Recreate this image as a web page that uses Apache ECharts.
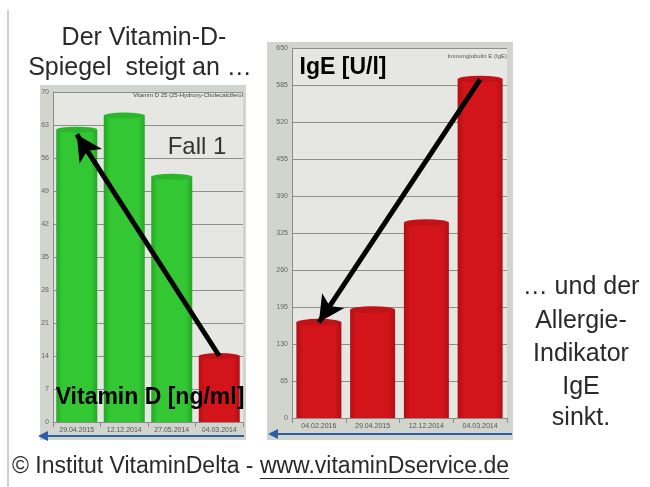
<!DOCTYPE html>
<html>
<head>
<meta charset="utf-8">
<script src="https://cdn.jsdelivr.net/npm/echarts@6.0.0/dist/echarts.min.js"></script>
<style>
  html, body { margin: 0; padding: 0; background: #ffffff; }
  #chart { width: 650px; height: 487px; }
</style>
</head>
<body>
<div id="chart"></div>
<script>
// ---- data ----
const vitCategories = ['29.04.2015', '12.12.2014', '27.05.2014', '04.03.2014'];
const vitValues = [62, 65, 52, 14];
const vitAxis = { min: 0, max: 70, interval: 7 };

const igeCategories = ['04.02.2016', '29.04.2015', '12.12.2014', '04.03.2014'];
const igeValues = [168, 190, 343, 595];
const igeAxis = { min: 0, max: 650, interval: 65 };

const vitTitle = 'Vitamin D 25 (25-Hydroxy-Cholecalciferol';
const igeTitle = 'Immunglobulin E (IgE)';
const rightLines = ['… und der', 'Allergie-', 'Indikator', 'IgE', 'sinkt.'];

// ---- styles ----
const FONT = '"Liberation Sans", Arial, sans-serif';
function cyl(c1, c2) {
  return new echarts.graphic.LinearGradient(0, 0, 1, 0, [
    { offset: 0, color: c2 }, { offset: 0.15, color: c1 },
    { offset: 0.85, color: c1 }, { offset: 1, color: c2 }
  ]);
}
const GREEN = cyl('#33c733', '#23a823');
const RED = cyl('#d3151b', '#b10f14');
const GREEN_TOP = '#2cb52c';
const RED_TOP = '#c11217';

const vitColor = v => (v < 20 ? RED : GREEN);
const vitTopColor = v => (v < 20 ? RED_TOP : GREEN_TOP);

const chart = echarts.init(document.getElementById('chart'), null, { renderer: 'canvas' });

function measure(text, font) {
  const c = document.createElement('canvas').getContext('2d');
  c.font = font;
  return c.measureText(text).width;
}
const footA = '© Institut VitaminDelta - ';
const footB = 'www.vitaminDservice.de';
const footFont = '23px ' + FONT;
const footAW = measure(footA, footFont);
const footBW = measure(footB, footFont);
const TEXT_COL = '#2a2a2a';

function yAxisCfg(gi, ax) {
  return {
    type: 'value', gridIndex: gi, min: ax.min, max: ax.max, interval: ax.interval,
    axisLine: { show: true, lineStyle: { color: '#8c8c8c' } },
    axisTick: { show: false },
    axisLabel: { fontSize: 7, color: '#666', fontFamily: FONT, margin: 4 },
    splitLine: { lineStyle: { color: '#8e8e8e', width: 1 } }
  };
}
function xAxisCfg(gi, cats) {
  return {
    type: 'category', gridIndex: gi, data: cats,
    axisLine: { lineStyle: { color: '#8c8c8c' } },
    axisTick: { show: true, lineStyle: { color: '#8c8c8c' } },
    axisLabel: { fontSize: 7, color: '#555', fontFamily: FONT, margin: 5 }
  };
}

const arrowLine = (from, to) => ({
  silent: true, symbol: ['none', 'arrow'], symbolSize: [20, 26],
  label: { show: false },
  lineStyle: { color: '#000', width: 5, type: 'solid' },
  data: [[{ coord: from }, { coord: to }]]
});

const option = {
  backgroundColor: '#ffffff',
  animation: false,
  grid: [
    { left: 53, top: 92, width: 190, height: 330, show: true, backgroundColor: '#e6e7e3', borderWidth: 0 },
    { left: 292, top: 48, width: 215, height: 370, show: true, backgroundColor: '#e6e7e3', borderWidth: 0 }
  ],
  xAxis: [xAxisCfg(0, vitCategories), xAxisCfg(1, igeCategories)],
  yAxis: [yAxisCfg(0, vitAxis), yAxisCfg(1, igeAxis)],
  series: [
    {
      type: 'bar', xAxisIndex: 0, yAxisIndex: 0, barWidth: 41, z: 2,
      data: vitValues.map(v => ({ value: v, itemStyle: { color: vitColor(v) } }))
    },
    {
      type: 'pictorialBar', xAxisIndex: 0, yAxisIndex: 0, symbol: 'circle',
      symbolSize: [41, 6], symbolPosition: 'end', symbolOffset: [0, '-50%'], z: 3,
      data: vitValues.map(v => ({ value: v, itemStyle: { color: vitTopColor(v) } })),
      markLine: arrowLine([3, vitValues[3]], [0, vitValues[0] - 1])
    },
    {
      type: 'bar', xAxisIndex: 1, yAxisIndex: 1, barWidth: 45, z: 2,
      data: igeValues.map(v => ({ value: v, itemStyle: { color: RED } }))
    },
    {
      type: 'pictorialBar', xAxisIndex: 1, yAxisIndex: 1, symbol: 'circle',
      symbolSize: [45, 7], symbolPosition: 'end', symbolOffset: [0, '-50%'], z: 3,
      data: igeValues.map(v => ({ value: v, itemStyle: { color: RED_TOP } })),
      markLine: arrowLine([3, igeValues[3]], [0, igeValues[0]])
    }
  ],
  graphic: [
    // left vertical rule
    { type: 'line', z: -10, shape: { x1: 8, y1: 10, x2: 8, y2: 487 }, style: { stroke: '#cfcfcf', lineWidth: 2 } },
    // panels
    { type: 'rect', z: -10, shape: { x: 40, y: 85, width: 206, height: 355 }, style: { fill: '#d2d4ce' } },
    { type: 'rect', z: -10, shape: { x: 267, y: 42, width: 246, height: 398 }, style: { fill: '#d2d4ce' } },
    // blue time arrows
    { type: 'line', shape: { x1: 46, y1: 436, x2: 244, y2: 436 }, style: { stroke: '#2a5ea8', lineWidth: 2 } },
    { type: 'polygon', shape: { points: [[38, 436], [48, 431], [48, 441]] }, style: { fill: '#2a5ea8' } },
    { type: 'line', shape: { x1: 276, y1: 434, x2: 512, y2: 434 }, style: { stroke: '#2a5ea8', lineWidth: 2 } },
    { type: 'polygon', shape: { points: [[268, 434], [278, 429], [278, 439]] }, style: { fill: '#2a5ea8' } },
    // small chart titles
    { type: 'text', z: 10, x: 243, y: 95, style: { text: vitTitle, font: '6px ' + FONT, fill: '#444', align: 'right', verticalAlign: 'middle' } },
    { type: 'text', z: 10, x: 507, y: 56, style: { text: igeTitle, font: '6px ' + FONT, fill: '#555', align: 'right', verticalAlign: 'middle' } },
    // headings
    { type: 'text', z: 10, x: 144, y: 38, style: { text: 'Der Vitamin-D-', font: '25px ' + FONT, fill: TEXT_COL, align: 'center', verticalAlign: 'middle' } },
    { type: 'text', z: 10, x: 140, y: 68, style: { text: 'Spiegel  steigt an …', font: '25px ' + FONT, fill: TEXT_COL, align: 'center', verticalAlign: 'middle' } },
    { type: 'text', z: 10, x: 197, y: 147, style: { text: 'Fall 1', font: '24px ' + FONT, fill: '#333', align: 'center', verticalAlign: 'middle' } },
    { type: 'text', z: 10, x: 150, y: 398, style: { text: 'Vitamin D [ng/ml]', font: 'bold 23px ' + FONT, fill: '#000', align: 'center', verticalAlign: 'middle' } },
    { type: 'text', z: 10, x: 343, y: 68, style: { text: 'IgE [U/l]', font: 'bold 23px ' + FONT, fill: '#000', align: 'center', verticalAlign: 'middle' } },
    // right side text
    ...rightLines.map((t, i) => ({
      type: 'text', z: 10, x: 581, y: [287, 321, 354, 387, 418][i],
      style: { text: t, font: '25px ' + FONT, fill: TEXT_COL, align: 'center', verticalAlign: 'middle' }
    })),
    // footer
    { type: 'text', z: 10, x: 12, y: 467, style: { text: footA, font: footFont, fill: TEXT_COL, align: 'left', verticalAlign: 'middle' } },
    { type: 'text', z: 10, x: 12 + footAW, y: 467, style: { text: footB, font: footFont, fill: TEXT_COL, align: 'left', verticalAlign: 'middle' } },
    { type: 'line', z: 10, shape: { x1: 12 + footAW, y1: 478.5, x2: 12 + footAW + footBW, y2: 478.5 }, style: { stroke: TEXT_COL, lineWidth: 1 } }
  ]
};
chart.setOption(option);
</script>
</body>
</html>
